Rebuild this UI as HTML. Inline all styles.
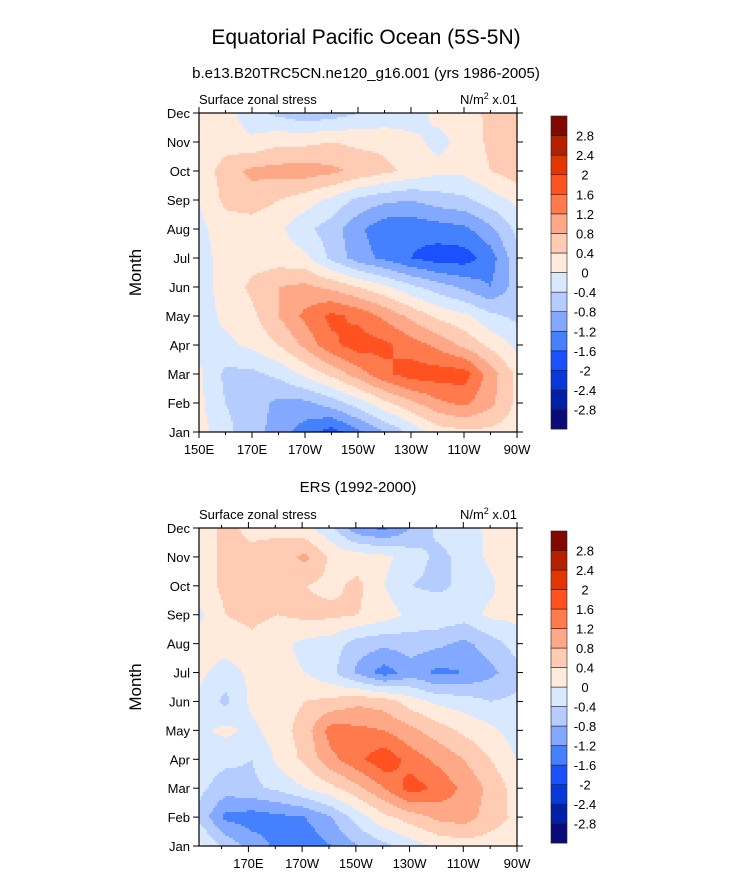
<!DOCTYPE html>
<html><head><meta charset="utf-8">
<style>
body{margin:0;background:#fff;width:733px;height:882px;overflow:hidden;font-family:"Liberation Sans",sans-serif}
svg text{font-family:"Liberation Sans",sans-serif;fill:#000}
</style></head>
<body>
<svg id="fig" width="733" height="882" xmlns="http://www.w3.org/2000/svg">
<text x="366" y="44" font-size="21" text-anchor="middle">Equatorial Pacific Ocean (5S-5N)</text>
<text x="366" y="78" font-size="15" text-anchor="middle">b.e13.B20TRC5CN.ne120_g16.001 (yrs 1986-2005)</text>
<text x="358" y="492" font-size="15" text-anchor="middle">ERS (1992-2000)</text>
</svg>
<script>
const months=["Jan","Feb","Mar","Apr","May","Jun","Jul","Aug","Sep","Oct","Nov","Dec"];
const levels=[-2.8,-2.4,-2,-1.6,-1.2,-0.8,-0.4,0,0.4,0.8,1.2,1.6,2,2.4,2.8];
const levelLabels=["-2.8","-2.4","-2","-1.6","-1.2","-0.8","-0.4","0","0.4","0.8","1.2","1.6","2","2.4","2.8"];
const colors=["#0a0a78","#0020a8","#0838d8","#1a50ff","#4580ff","#82a8ff","#b4ccff","#d8e8ff","#ffeadb","#ffcbb2","#ffa887","#ff7a4c","#ff5220","#e23600","#b52000","#800a00"];
const xTickLon=[150,170,190,210,230,250,270];
const xTickLabels=["150E","170E","170W","150W","130W","110W","90W"];
const modelVals=[
[0.2,-0.3,-0.6,-1.0,-1.4,-1.8,-1.3,-0.8,-0.3,0.2,0.3,0.3,0.2],
[0.1,-0.4,-0.6,-0.9,-0.9,-0.6,-0.2,0.3,0.7,1.1,1.3,0.9,0.3],
[0.1,-0.5,-0.5,-0.3,0.1,0.5,1.0,1.5,1.8,1.8,1.8,1.0,0.3],
[-0.2,-0.1,0.1,0.4,0.9,1.5,1.8,1.7,1.4,1.1,0.7,0.3,-0.1],
[-0.2,0.1,0.3,0.8,1.3,1.7,1.5,1.1,0.7,0.3,0.1,-0.3,-0.5],
[-0.1,0.1,0.5,0.8,0.9,0.7,0.4,0.1,-0.3,-0.6,-0.9,-1.2,-0.6],
[-0.2,0.2,0.2,0.2,0.1,-0.5,-1.0,-1.3,-1.6,-1.8,-1.8,-1.4,-0.5],
[-0.1,0.2,0.2,0.1,-0.3,-0.6,-1.1,-1.5,-1.5,-1.4,-1.3,-0.9,-0.3],
[0.0,0.5,0.6,0.4,0.2,-0.1,-0.5,-0.7,-0.8,-0.6,-0.5,-0.2,0.1],
[0.1,0.6,0.9,0.95,1.0,0.9,0.7,0.5,0.3,0.1,0.1,0.4,0.6],
[0.1,0.2,0.1,0.3,0.3,0.4,0.3,0.3,0.1,-0.1,0.1,0.5,0.6],
[0.1,0.2,-0.3,-0.5,-0.7,-0.6,-0.4,-0.3,-0.2,0.1,0.2,0.5,0.5]];
const obsVals=[
[0.1,-0.5,-1.0,-1.3,-1.5,-1.2,-0.8,-0.5,-0.2,0.1,0.2,0.2,0.2],
[-0.5,-1.3,-1.4,-1.3,-1.2,-0.8,-0.2,0.3,0.6,0.9,1.0,0.6,0.3],
[-0.3,-0.6,-0.5,-0.3,0.0,0.3,0.7,1.2,1.8,1.5,1.1,0.7,0.2],
[-0.2,-0.3,-0.4,0.1,0.5,1.1,1.5,1.9,1.4,1.1,0.8,0.4,0.0],
[-0.1,0.1,-0.1,0.2,0.6,1.4,1.3,1.2,0.9,0.6,0.3,0.1,-0.2],
[-0.1,-0.5,0.1,0.2,0.4,0.5,0.7,0.6,0.2,-0.1,-0.2,-0.4,-0.3],
[0.1,-0.2,0.1,0.1,0.0,-0.3,-0.9,-1.4,-1.0,-1.3,-1.2,-0.9,-0.6],
[0.2,0.2,0.3,0.1,-0.1,-0.2,-0.6,-0.7,-0.6,-0.7,-0.9,-0.6,-0.2],
[-0.1,0.4,0.5,0.4,0.5,0.5,0.4,0.2,-0.1,-0.1,-0.2,0.1,0.1],
[0.2,0.5,0.4,0.5,0.4,0.3,0.5,0.0,-0.4,-0.5,-0.3,-0.1,0.4],
[0.2,0.5,0.5,0.6,0.9,0.3,0.2,0.1,-0.2,-0.5,-0.3,0.1,0.1],
[0.2,0.5,0.3,0.3,0.1,-0.3,-1.1,-1.3,-0.8,-0.3,-0.2,0.1,0.2]];

const NS="http://www.w3.org/2000/svg";
const svg=document.getElementById('fig');
function mk(tag,attrs,parent){const e=document.createElementNS(NS,tag);for(const k in attrs)e.setAttribute(k,attrs[k]);(parent||svg).appendChild(e);return e;}
function colorFor(v){let i=0;while(i<levels.length&&v>=levels[i])i++;return colors[i];}

function drawPanel(vals,box,lonMin,lonMax,id){
  const g=mk('g',{});
  
  
  const xS=lon=>box.x+(lon-lonMin)/(lonMax-lonMin)*box.w;
  const yS=m=>box.y+box.h-m/11*box.h;
  const nc=vals[0].length;
  const sample=(px,py)=>{
    const fx=(px-box.x)/box.w*(nc-1), fy=(box.y+box.h-py)/box.h*11;
    const i0=Math.max(0,Math.min(nc-2,Math.floor(fx))), j0=Math.max(0,Math.min(10,Math.floor(fy)));
    const tx=fx-i0, ty=fy-j0;
    const a=vals[j0][i0],b=vals[j0][i0+1],c=vals[j0+1][i0],d=vals[j0+1][i0+1];
    return a*(1-tx)*(1-ty)+b*tx*(1-ty)+c*(1-tx)*ty+d*tx*ty;
  };
  const cells=mk('g',{},g);
  
  
  const st=2;
  for(let py=box.y;py<box.y+box.h;py+=st){
    let runStart=box.x,runCol=null;
    for(let px=box.x;px<=box.x+box.w;px+=st){
      const col=px<box.x+box.w?colorFor(sample(px+st/2,py+st/2)):null;
      if(col!==runCol){
        if(runCol){const r=mk('rect',{x:runStart,y:py,width:px-runStart+0.6,height:Math.min(st,box.y+box.h-py)+0.6,fill:runCol},cells);
          
          }
        runStart=px;runCol=col;
      }
    }
  }
  mk('rect',{x:box.x,y:box.y,width:box.w,height:box.h,fill:'none',stroke:'#000','stroke-width':1.2},g);
  months.forEach((m,k)=>{
    const y=yS(k);
    mk('line',{x1:box.x-6,x2:box.x,y1:y,y2:y,stroke:'#000','stroke-width':1},g);
    mk('line',{x1:box.x+box.w,x2:box.x+box.w+6,y1:y,y2:y,stroke:'#000','stroke-width':1},g);
    const t=mk('text',{x:box.x-9,y:y+5,'font-size':13,'text-anchor':'end'},g);t.textContent=m;
    
    
  });
  for(let lon=150;lon<=270;lon+=10){
    if(lon<lonMin-0.01)continue;
    const x=xS(lon), major=(lon-150)%20===0;
    const L=major?6:3;
    mk('line',{x1:x,x2:x,y1:box.y+box.h,y2:box.y+box.h+L,stroke:'#000','stroke-width':1},g);
    mk('line',{x1:x,x2:x,y1:box.y-L,y2:box.y,stroke:'#000','stroke-width':1},g);
  }
  xTickLon.forEach((lon,k)=>{
    if(lon<lonMin-0.01)return;
    const t=mk('text',{x:xS(lon),y:box.y+box.h+22,'font-size':13,'text-anchor':'middle'},g);t.textContent=xTickLabels[k];
    
    
  });
  const t1=mk('text',{x:box.x,y:box.y-9,'font-size':13},g);t1.textContent='Surface zonal stress';
  
  
  const t2=mk('text',{x:box.x+box.w,y:box.y-9,'font-size':13,'text-anchor':'end'},g);
  t2.innerHTML='N/m<tspan dy="-5" font-size="9">2</tspan><tspan dy="5"> x.01</tspan>';
  
  
  const ty=box.y+box.h/2;
  const t3=mk('text',{x:141,y:ty,'font-size':17,'text-anchor':'middle',transform:`rotate(-90 141 ${ty})`},g);t3.textContent='Month';
  
  
  const cb=mk('g',{},g);
  
  
  const cx=551,cw=16,bh=box.h/16.3,cy0=box.y+3;
  for(let i=0;i<16;i++){
    const r=mk('rect',{x:cx,y:cy0+(15-i)*bh,width:cw,height:bh,fill:colors[i],stroke:'#222','stroke-width':0.6},cb);
    
    
  }
  levels.forEach((lv,i)=>{
    const y=cy0+(15-i)*bh;
    const t=mk('text',{x:585,y:y+5,'font-size':13,'text-anchor':'middle'},cb);t.textContent=levelLabels[i];
    
    
  });
}
drawPanel(modelVals,{x:199,y:113,w:318,h:319},150,270,'model');
drawPanel(obsVals,{x:199,y:528,w:318,h:318},151.6,270,'obs');
</script>
</body></html>
